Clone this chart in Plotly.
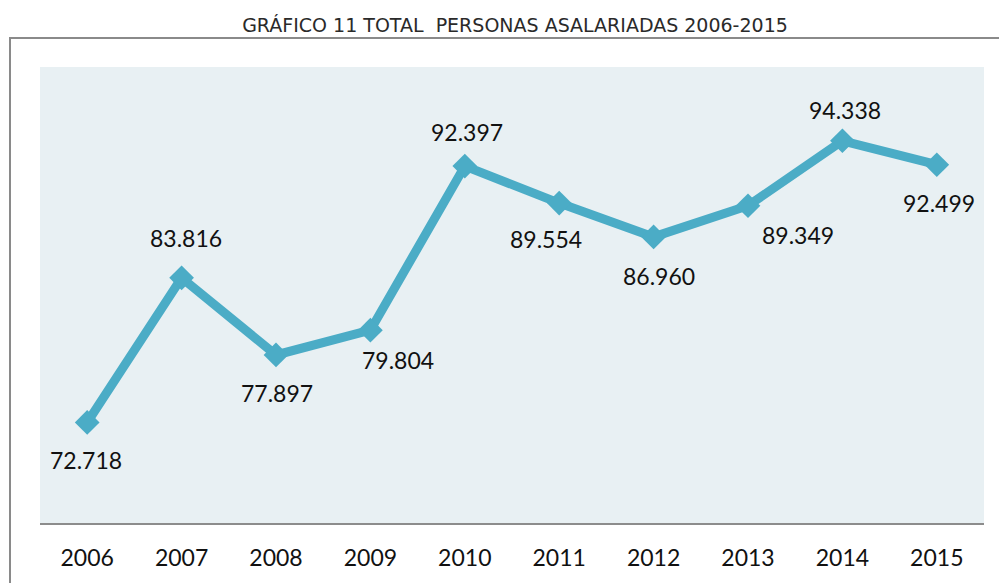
import plotly.graph_objects as go

years = ["2006", "2007", "2008", "2009", "2010", "2011", "2012", "2013", "2014", "2015"]
values = [72718, 83816, 77897, 79804, 92397, 89554, 86960, 89349, 94338, 92499]
labels = ["72.718", "83.816", "77.897", "79.804", "92.397", "89.554", "86.960", "89.349", "94.338", "92.499"]
# label offsets in pixels (x right, y up)
label_dx = [-1, 4, 1, 28, 2, -13, 5, 50, 3, 2]
label_dy = [-38, 40, -38, -30, 34, -36, -39, -29, 31, -38]

title = "GRÁFICO 11 TOTAL  PERSONAS ASALARIADAS 2006-2015"
color = "#4bacc6"

fig = go.Figure()
fig.add_trace(go.Scatter(
    x=years, y=values, mode="lines+markers",
    line=dict(color=color, width=9),
    marker=dict(symbol="diamond", size=19, color=color),
    hoverinfo="skip", showlegend=False,
))

for i, (y, t, dx, dy) in enumerate(zip(values, labels, label_dx, label_dy)):
    fig.add_annotation(x=i, y=y, xref="x", yref="y", text=t, showarrow=False,
                       xshift=dx, yshift=dy,
                       font=dict(family="Lato, Open Sans, sans-serif", size=23, color="#111111"))

fig.add_shape(type="rect", xref="paper", yref="paper",
              x0=-30/944, x1=1.1, y0=-0.3, y1=(523-38)/456,
              line=dict(color="#8a8a8a", width=2), fillcolor="rgba(0,0,0,0)", layer="below")

fig.update_layout(
    width=999, height=583,
    margin=dict(l=40, r=15, t=67, b=60),
    paper_bgcolor="white",
    plot_bgcolor="#e8f0f3",
    title=dict(text=title, x=515/999, xanchor="center", y=1-25/583, yanchor="middle",
               font=dict(family="DejaVu Sans, sans-serif", size=19, color="#2a2a2a")),
    xaxis=dict(type="category", range=[-0.5, 9.5], showgrid=False, zeroline=False,
               showline=True, linecolor="#8c8c8c", linewidth=2, ticks="",
               tickfont=dict(family="Lato, Open Sans, sans-serif", size=23, color="#111111"),
               ticklabelstandoff=13),
    yaxis=dict(range=[65000, 100000], visible=False, showgrid=False, zeroline=False),
)

fig.write_html("out.html", config={"displayModeBar": False},
               post_script="document.body.style.margin='0';")
